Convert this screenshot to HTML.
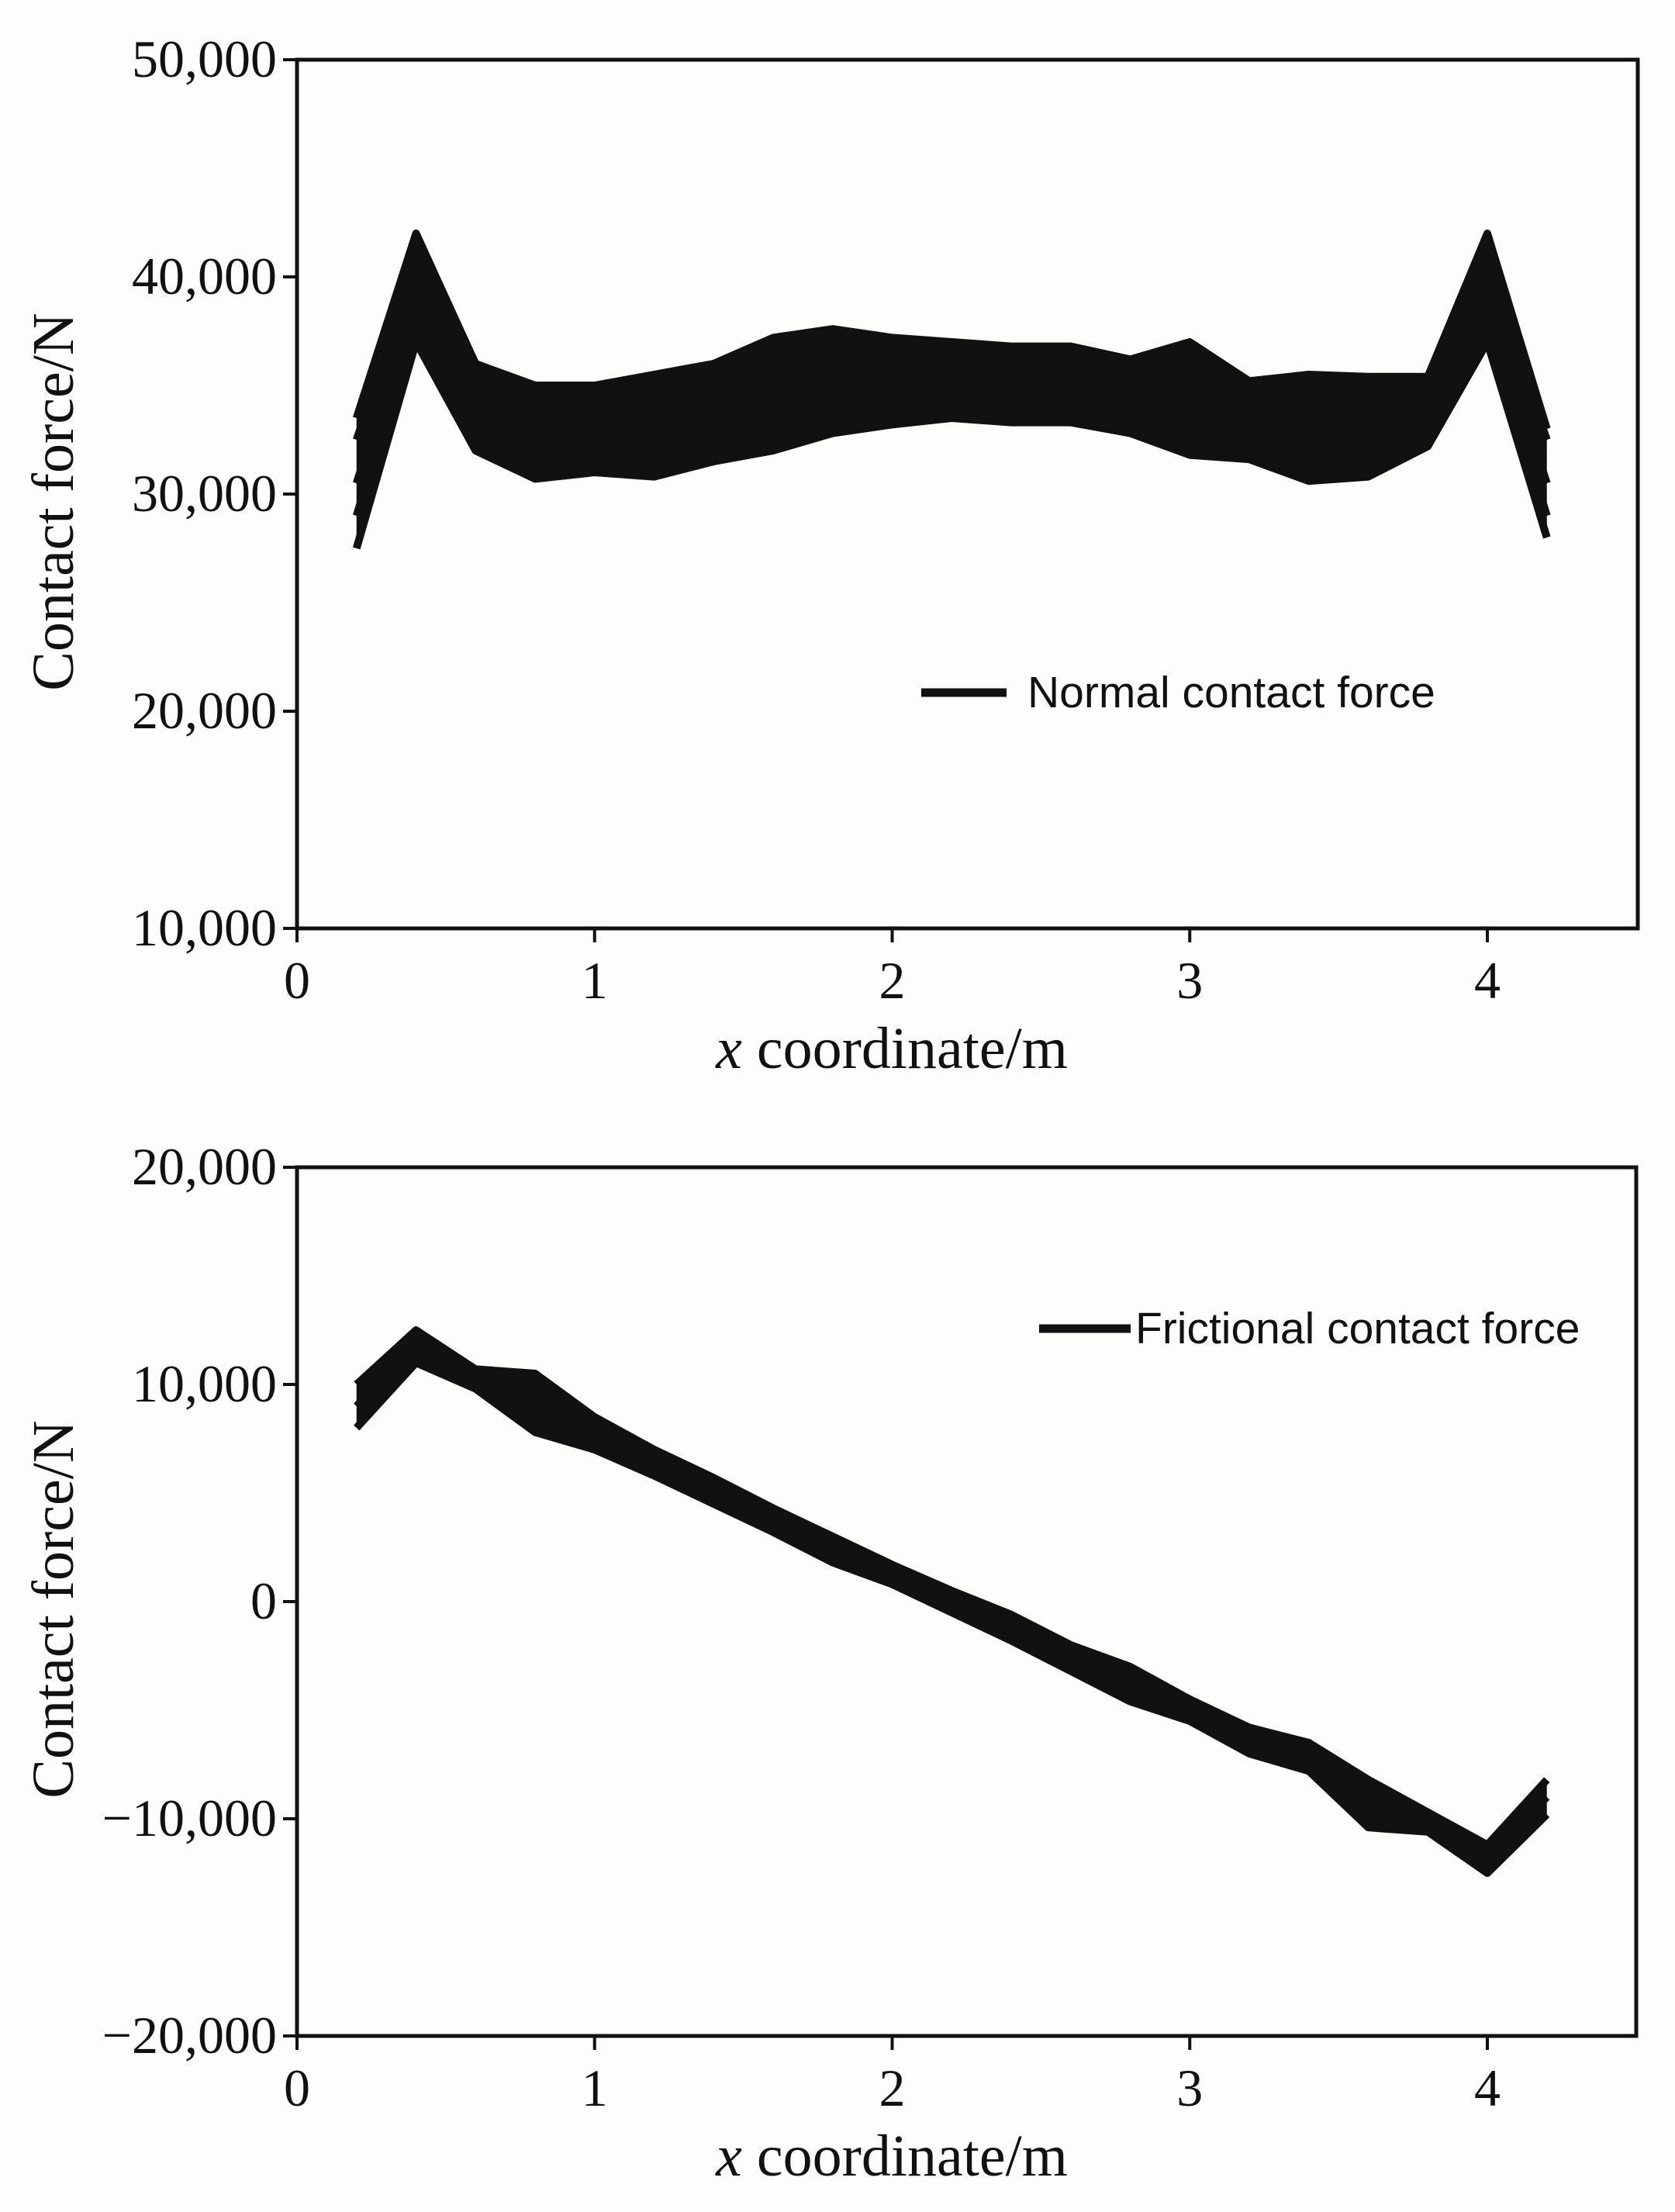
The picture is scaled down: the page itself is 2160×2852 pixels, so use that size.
<!DOCTYPE html>
<html><head><meta charset="utf-8"><style>
html,body{margin:0;padding:0;background:#fdfdfc;}
svg{display:block;}
.tk{font-family:"Liberation Serif",serif;font-size:68px;fill:#111;}
.tt{font-family:"Liberation Serif",serif;font-size:76px;fill:#111;}
.lg{font-family:"Liberation Sans",sans-serif;font-size:57px;fill:#111;}
</style></head><body>
<svg id="chart" width="2160" height="2852" viewBox="0 0 2160 2852" xmlns="http://www.w3.org/2000/svg">
<rect width="2160" height="2852" fill="#fdfdfc"/>
</svg>
<script>
const xValues=[0.2,0.4,0.6,0.8,1.0,1.2,1.4,1.6,1.8,2.0,2.2,2.4,2.6,2.8,3.0,3.2,3.4,3.6,3.8,4.0,4.2];
const xTicks=[0,1,2,3,4];
const normalTicks=[10000,20000,30000,40000,50000];
const normalTickLabels=["10,000","20,000","30,000","40,000","50,000"];
const normalUpper=[33500,42000,36000,35000,35000,35500,36000,37200,37600,37200,37000,36800,36800,36200,37000,35200,35500,35400,35400,42000,33000];
const normalHigh=[32500,40500,35000,34200,34300,34800,35500,36600,37000,36800,36600,36400,36400,35800,36200,34800,35000,35000,35000,40500,32500];
const normalMid=[30500,39000,34000,33000,33000,33500,34000,35000,35500,35500,35500,35300,35200,34600,34500,33800,33500,33500,34000,39000,30500];
const normalLow=[29000,38000,33000,31400,31300,31500,32400,33000,33600,33800,34000,33800,33700,33300,32600,32200,31300,31500,32800,38000,29000];
const normalLower=[27500,37000,32000,30700,31000,30800,31500,32000,32800,33200,33500,33300,33300,32800,31800,31600,30600,30800,32200,37000,28000];
const fricTicks=[-20000,-10000,0,10000,20000];
const fricTickLabels=["\u221220,000","\u221210,000","0","10,000","20,000"];
const fricUpper=[10000,12500,10700,10500,8500,7000,5700,4300,3000,1700,500,-600,-2000,-3000,-4500,-5800,-6500,-8200,-9700,-11200,-8200];
const fricMid=[9000,11800,10200,9200,7700,6400,5100,3700,2400,1200,0,-1200,-2600,-3800,-5000,-6400,-7200,-9300,-10200,-11800,-9000];
const fricLower=[8000,11000,9800,7800,7000,5800,4500,3200,1800,800,-500,-1800,-3200,-4600,-5500,-7000,-7800,-10400,-10600,-12500,-9800];

const svg=document.getElementById('chart');
const NS='http://www.w3.org/2000/svg';
function mk(tag,attrs,parent){const e=document.createElementNS(NS,tag);for(const k in attrs)e.setAttribute(k,attrs[k]);(parent||svg).appendChild(e);return e;}

function panel(cfg){
  const g=mk('g',{});
  
  
  const L=cfg.left,R=cfg.right,T=cfg.top,B=cfg.bottom;
  const xs=v=>L+(cfg.x4-L)*v/4;
  const ys=v=>B-(v-cfg.ymin)/(cfg.ymax-cfg.ymin)*(B-T);
  const env=[];
  for(let i=0;i<xValues.length;i++){const m=Math.max(...cfg.series.map(s=>s[i]));env.push(xs(xValues[i])+','+ys(m));}
  for(let i=xValues.length-1;i>=0;i--){const m=Math.min(...cfg.series.map(s=>s[i]));env.push(xs(xValues[i])+','+ys(m));}
  const band=mk('polygon',{points:env.join(' '),fill:'#111'},g);
  
  
  cfg.series.forEach((s,k)=>{
    const p=mk('polyline',{points:s.map((v,i)=>xs(xValues[i])+','+ys(v)).join(' '),fill:'none',stroke:'#111','stroke-width':10,'stroke-linejoin':'round'},g);
    
    
  });
  const fr=mk('rect',{x:L,y:T,width:R-L,height:B-T,fill:'none',stroke:'#111','stroke-width':5},g);
  
  
  cfg.yTicks.forEach((v,i)=>{
    const y=ys(v);
    const t=mk('line',{x1:L-18,x2:L,y1:y,y2:y,stroke:'#111','stroke-width':4},g);
    
    
    const tx=mk('text',{x:L-26,y:y+22,'text-anchor':'end',class:'tk'},g);
    tx.textContent=cfg.yLabels[i];
    
    
  });
  xTicks.forEach(v=>{
    const x=xs(v);
    const t=mk('line',{x1:x,x2:x,y1:B,y2:B+18,stroke:'#111','stroke-width':4},g);
    
    
    const tx=mk('text',{x:x,y:B+90,'text-anchor':'middle',class:'tk'},g);
    tx.textContent=String(v);
    
    
  });
  const yt=mk('text',{x:0,y:0,'text-anchor':'middle',class:'tt',transform:'translate(94,'+((T+B)/2+10)+') rotate(-90)'},g);
  yt.textContent='Contact force/N';
  
  
  const xt=mk('text',{x:1150,y:B+180,'text-anchor':'middle',class:'tt'},g);
  xt.innerHTML='<tspan font-style="italic">x</tspan> coordinate/m';
  
  
  const ll=mk('line',{x1:cfg.legX1,x2:cfg.legX2,y1:cfg.legY,y2:cfg.legY,stroke:'#111','stroke-width':11},g);
  
  
  const lt=mk('text',{x:cfg.legTX,y:cfg.legY+19,class:'lg'},g);
  lt.textContent=cfg.legend;
  
  
}
panel({name:'normal-force-chart',left:383,right:2112,top:77,bottom:1197,x4:1918,ymin:10000,ymax:50000,
  yTicks:normalTicks,yLabels:normalTickLabels,series:[normalUpper,normalHigh,normalMid,normalLow,normalLower],
  legX1:1188,legX2:1298,legY:893,legTX:1325,legend:'Normal contact force'});
panel({name:'frictional-force-chart',left:383,right:2110,top:1505,bottom:2625,x4:1918,ymin:-20000,ymax:20000,
  yTicks:fricTicks,yLabels:fricTickLabels,series:[fricUpper,fricMid,fricLower],
  legX1:1340,legX2:1458,legY:1713,legTX:1464,legend:'Frictional contact force'});
</script>
</body></html>
